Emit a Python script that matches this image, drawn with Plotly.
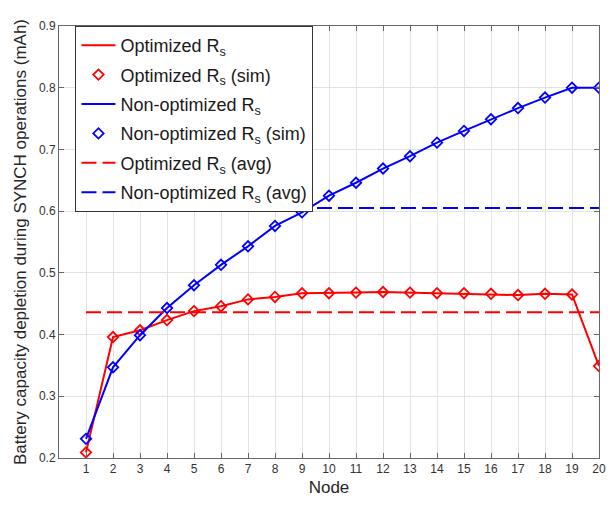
import plotly.graph_objects as go

# Battery capacity depletion per node during SYNCH operations (mAh)
nodes = list(range(1, 21))
optimized = [0.209, 0.396, 0.407, 0.4235, 0.438, 0.446, 0.457, 0.461, 0.467, 0.467,
             0.468, 0.469, 0.468, 0.467, 0.467, 0.466, 0.464, 0.466, 0.465, 0.349]
non_optimized = [0.231, 0.347, 0.399, 0.443, 0.480, 0.513, 0.543, 0.576, 0.598, 0.625,
                 0.646, 0.669, 0.689, 0.711, 0.730, 0.749, 0.767, 0.784, 0.800, 0.800]
optimized_avg = 0.436
non_optimized_avg = 0.605

RED = "#ff0000"
BLUE = "#0000ff"
FONT = "Liberation Sans, Arial, Helvetica, sans-serif"

fig = go.Figure()
fig.add_trace(go.Scatter(x=nodes, y=optimized, mode="lines", name="Optimized R<sub>s</sub>",
                         legendgroup="g1", line=dict(color=RED, width=2)))
fig.add_trace(go.Scatter(x=nodes, y=optimized, mode="markers", name="Optimized R<sub>s</sub> (sim)",
                         legendgroup="g2",
                         marker=dict(symbol="diamond-open", size=8, color=RED,
                                     line=dict(color=RED, width=1.8))))
fig.add_trace(go.Scatter(x=nodes, y=non_optimized, mode="lines", name="Non-optimized R<sub>s</sub>",
                         legendgroup="g3", line=dict(color=BLUE, width=2)))
fig.add_trace(go.Scatter(x=nodes, y=non_optimized, mode="markers", name="Non-optimized R<sub>s</sub> (sim)",
                         legendgroup="g4",
                         marker=dict(symbol="diamond-open", size=8, color=BLUE,
                                     line=dict(color=BLUE, width=1.8))))
fig.add_trace(go.Scatter(x=[nodes[0], nodes[-1]], y=[optimized_avg, optimized_avg], mode="lines",
                         name="Optimized R<sub>s</sub> (avg)", legendgroup="g5",
                         line=dict(color=RED, width=2, dash="15px,6px")))
fig.add_trace(go.Scatter(x=[nodes[0], nodes[-1]], y=[non_optimized_avg, non_optimized_avg], mode="lines",
                         name="Non-optimized R<sub>s</sub> (avg)", legendgroup="g6",
                         line=dict(color=BLUE, width=2, dash="15px,6px")))

axis_common = dict(
    showline=True, linecolor="#666666", linewidth=1, mirror="ticks",
    ticks="inside", ticklen=5, tickcolor="#666666",
    showgrid=True, gridcolor="#e3e3e3", gridwidth=1, zeroline=False,
    tickfont=dict(family=FONT, size=12, color="#333333"),
)

fig.update_layout(
    width=613, height=505,
    margin=dict(l=59, r=7, t=26, b=47),
    paper_bgcolor="white", plot_bgcolor="white",
    font=dict(family=FONT, color="#262626"),
    showlegend=True,
    legend=dict(x=0.0305, y=1.0, xanchor="left", yanchor="top",
                bgcolor="white", bordercolor="#333333", borderwidth=1,
                font=dict(family=FONT, size=18, color="#1a1a1a"),
                itemwidth=34, tracegroupgap=3),
    xaxis=dict(range=[0, 20], tickmode="array", tickvals=nodes, ticktext=[str(n) for n in nodes],
               title=dict(text="Node", font=dict(family=FONT, size=17, color="#262626"), standoff=5),
               **axis_common),
    yaxis=dict(range=[0.2, 0.9], tickmode="array",
               tickvals=[0.2, 0.3, 0.4, 0.5, 0.6, 0.7, 0.8, 0.9],
               ticktext=["0.2", "0.3", "0.4", "0.5", "0.6", "0.7", "0.8", "0.9"],
               title=dict(text="Battery capacity depletion during SYNCH operations (mAh)",
                          font=dict(family=FONT, size=17, color="#262626"), standoff=7),
               **axis_common),
)

fig.write_html("out.html")
